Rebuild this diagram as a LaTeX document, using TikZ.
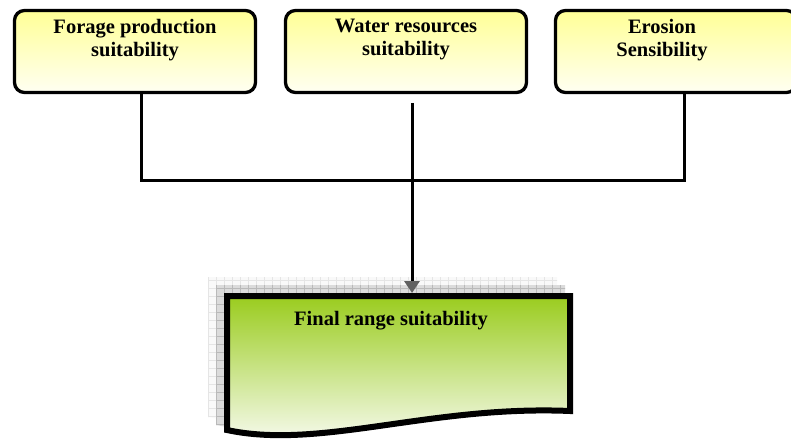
\documentclass[tikz,border=0pt]{standalone}
\usepackage{fontspec}
\setmainfont{Liberation Serif}
\usetikzlibrary{arrows.meta}

\definecolor{boxtop}{RGB}{255,255,150}
\definecolor{boxbot}{RGB}{255,255,242}
\definecolor{leaf}{RGB}{154,204,30}
\definecolor{leafbot}{RGB}{252,253,250}

\begin{document}
\begin{tikzpicture}
  [x=1pt,y=-1pt,
   suitbox/.style={rectangle,rounded corners=10pt,draw=black,line width=3.3pt,
     top color=boxtop,bottom color=boxbot,minimum width=241pt,minimum height=82pt},
   boxtext/.style={font=\fontsize{20.5}{23.5}\selectfont\bfseries,align=center,
     inner sep=0pt,anchor=north},
   conn/.style={line width=3pt,black},
   flow/.style={line width=3pt,black,-{Triangle[width=15pt,length=12pt,color=gray!75!black]}}]
  \useasboundingbox (0,0) rectangle (791,441);

  % input layers
  \node[suitbox] (forage) at (135,51.5) {};
  \node[suitbox] (water) at (406,51.5) {};
  \node[suitbox] (erosion) at (676,51.5) {};

  \node[boxtext] (forageT) at ([yshift=-10pt]forage.north) {Forage production\\suitability};
  \node[boxtext] (waterT) at ([yshift=-10pt]water.north) {Water resources\\suitability};
  \node[boxtext] (erosionT) at ([xshift=-14pt,yshift=-10pt]erosion.north) {Erosion\\Sensibility};

  % stacked sheets behind the result
  \foreach \d/\bg/\ln in {16/gray!5/gray!20, 8/gray!28/gray!55} {
    \begin{scope}[shift={(-\d,-\d)}]
      \clip (224,293) -- (573,293) -- (573,414) .. controls (430,408) and (320,453) .. (224,433) -- cycle;
      \fill[\bg] (190,270) rectangle (600,460);
      \draw[\ln,step=8pt] (190,270) grid (600,460);
    \end{scope}
  }

  % result sheet
  \draw[line width=6pt,line join=miter,top color=leaf,middle color=leaf!40!white,bottom color=leafbot]
    (227,296) -- (570,296) -- (570,411) .. controls (430,405) and (320,450) .. (227,430) -- cycle;
  \node[font=\fontsize{20.5}{23.5}\selectfont\bfseries,anchor=base] (final) at (391,325) {Final range suitability};

  \coordinate (joinL) at (141,180);
  \coordinate (joinR) at (684,180);
  \coordinate (waterOut) at (412,103);
  \coordinate (finalTop) at (412,293);

  \draw[conn] (joinL |- forage.south) -- (joinL) -- (joinR) -- (joinR |- erosion.south);
  \draw[flow] (waterOut) -- (finalTop);
\end{tikzpicture}
\end{document}
